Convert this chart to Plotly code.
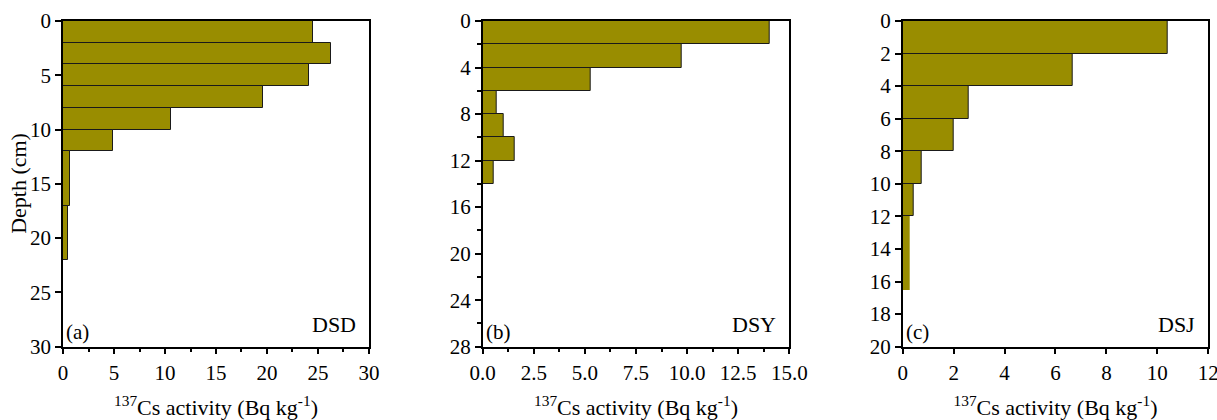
import plotly.graph_objects as go

# Depth intervals (cm) and 137Cs activity (Bq kg-1) for the three cores
dsd_top = [0, 2, 4, 6, 8, 10, 12, 17]
dsd_bottom = [2, 4, 6, 8, 10, 12, 17, 22]
dsd_cs = [24.5, 26.3, 24.1, 19.6, 10.6, 4.9, 0.68, 0.45]

dsy_top = [0, 2, 4, 6, 8, 10, 12]
dsy_bottom = [2, 4, 6, 8, 10, 12, 14]
dsy_cs = [14.05, 9.72, 5.27, 0.67, 1.02, 1.56, 0.53]

dsj_top = [0, 2, 4, 6, 8, 10, 12]
dsj_bottom = [2, 4, 6, 8, 10, 12, 16.5]
dsj_cs = [10.4, 6.68, 2.61, 2.01, 0.74, 0.42, 0.27]
dsj_outline = [1, 1, 1, 1, 1, 1, 0]

FILL = "#998D00"
EDGE = "#1a1a1a"
FONT = "Liberation Serif, Times New Roman, serif"
W, H = 1217, 420


def profile(top, bottom, values, xa, ya, outline=None):
    mids = [(t + b) / 2 for t, b in zip(top, bottom)]
    thick = [b - t for t, b in zip(top, bottom)]
    return go.Bar(
        x=values, y=mids, width=thick, base=0, orientation="h",
        xaxis=xa, yaxis=ya, showlegend=False,
        marker=dict(color=FILL,
                    line=dict(color=EDGE, width=outline if outline else 1)),
    )


fig = go.Figure()
fig.add_trace(profile(dsd_top, dsd_bottom, dsd_cs, "x", "y"))
fig.add_trace(profile(dsy_top, dsy_bottom, dsy_cs, "x2", "y2"))
fig.add_trace(profile(dsj_top, dsj_bottom, dsj_cs, "x3", "y3", dsj_outline))

# panel placement in pixels
panels_px = [(63, 369), (482.7, 789.3), (902.7, 1208.3)]
y_top_px, y_bot_px = 21, 346.7
ydom = [1 - y_bot_px / H, 1 - y_top_px / H]

axis_common = dict(
    showline=True, linecolor="black", linewidth=1.5, mirror=True,
    ticks="outside", ticklen=6, tickwidth=1.5, tickcolor="black",
    showgrid=False, zeroline=False, automargin=False,
    ticklabeloverflow="allow",
    tickfont=dict(family=FONT, size=21, color="black"),
)
xtitle = dict(text="<sup>137</sup>Cs activity (Bq kg<sup>-1</sup>)",
              font=dict(family=FONT, size=22, color="black"), standoff=16)

x_specs = [
    dict(range=[0, 30.001], tick0=0, dtick=5,
         minor=dict(dtick=2.5, ticks="outside", ticklen=4, tickcolor="black")),
    dict(range=[0, 15.001], tick0=0, dtick=2.5, tickformat=".1f",
         minor=dict(dtick=1.25, ticks="outside", ticklen=4, tickcolor="black")),
    dict(range=[0, 12.001], tick0=0, dtick=2),
]
y_specs = [
    dict(range=[30, 0], tick0=0, dtick=5),
    dict(range=[28, 0], tick0=0, dtick=4,
         minor=dict(dtick=2, ticks="outside", ticklen=4, tickcolor="black")),
    dict(range=[20, 0], tick0=0, dtick=2),
]

layout = {}
for i, ((x0, x1), xs, ys) in enumerate(zip(panels_px, x_specs, y_specs)):
    sfx = "" if i == 0 else str(i + 1)
    layout["xaxis" + sfx] = dict(axis_common, **xs, domain=[x0 / W, x1 / W],
                                 anchor="y" + sfx, title=xtitle)
    layout["yaxis" + sfx] = dict(axis_common, **ys, domain=ydom, anchor="x" + sfx)

fig.update_layout(**layout)

annots = []
# depth label on the left of panel (a)
annots.append(dict(text="Depth (cm)", xref="paper", yref="paper",
                   x=19 / W, y=1 - ((y_top_px + y_bot_px) / 2) / H,
                   xanchor="center", yanchor="middle", textangle=-90,
                   showarrow=False, font=dict(family=FONT, size=22, color="black")))

# panel letters and core names
letters = ["(a)", "(b)", "(c)"]
names = ["DSD", "DSY", "DSJ"]
for (x0, x1), let, nm in zip(panels_px, letters, names):
    annots.append(dict(text=let, xref="paper", yref="paper",
                       x=(x0 + 1) / W, y=1 - 346 / H, xanchor="left", yanchor="bottom",
                       showarrow=False, font=dict(family=FONT, size=21, color="black")))
    annots.append(dict(text=nm, xref="paper", yref="paper",
                       x=(x1 - 11) / W, y=1 - 339 / H, xanchor="right", yanchor="bottom",
                       showarrow=False, font=dict(family=FONT, size=22, color="black")))

fig.update_layout(
    width=W, height=H, margin=dict(l=0, r=0, t=0, b=0),
    paper_bgcolor="white", plot_bgcolor="white",
    font=dict(family=FONT, color="black"),
    annotations=annots, bargap=0,
)

fig.write_html("out.html")
